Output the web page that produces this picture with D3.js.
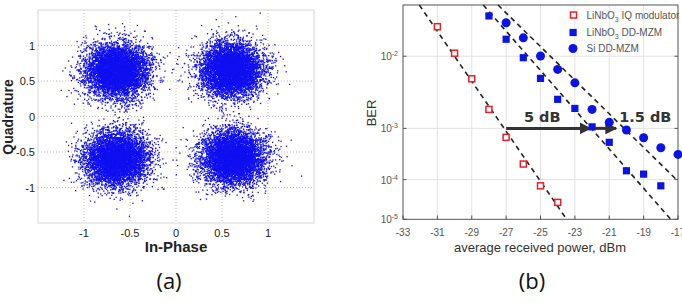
<!DOCTYPE html>
<html>
<head>
<meta charset="utf-8">
<script src="https://cdn.jsdelivr.net/npm/d3@7"></script>
<style>
  body { margin: 0; background: #fff; }
  text { font-family: Arial, "Liberation Sans", sans-serif; }
</style>
</head>
<body>
<svg id="chart" width="682" height="303"></svg>
<script>
//#region DATA
// (a) QPSK constellation: symbol centres and noise spread
const symbolI = [-0.64, 0.60, -0.64, 0.62];
const symbolQ = [0.64, 0.66, -0.60, -0.58];
const noiseI = 0.17;
const noiseQ = 0.19;
const pointsPerSymbol = 6000;
const iqTicks = [-1, -0.5, 0, 0.5, 1];

// (b) BER vs received power
const powerTicks = [-33, -31, -29, -27, -25, -23, -21, -19, -17];
const berTicks = [1e-2, 1e-3, 1e-4, 1e-5];
const berTickExp = ["-2", "-3", "-4", "-5"];

const iqModPower = [-31, -30, -29, -28, -27, -26, -25, -24];
const iqModBer = [0.0202, 0.0108, 0.00537, 0.00201, 0.00070, 0.000216, 7.2e-5, 2.84e-5];

const lnDdPower = [-28, -27, -26, -25, -24, -23, -22, -21, -20, -19, -18];
const lnDdBer = [0.0254, 0.0152, 0.00962, 0.00543, 0.00283, 0.00208, 0.00106, 0.000569, 0.000156, 0.000132, 7.2e-5];

const siDdPower = [-27, -26, -25, -24, -23, -22, -21, -20, -19, -18, -17];
const siDdBer = [0.0220, 0.0157, 0.01005, 0.00702, 0.00476, 0.00201, 0.00126, 0.000937, 0.000689, 0.000452, 0.000337];

// dashed fit lines: [power start, power end], [ber start, ber end]
const fitPower = [[-32.05, -23.48], [-28.33, -17.42], [-27.47, -17]];
const fitBer = [[0.0316, 1e-5], [0.0316, 1e-5], [0.0316, 9.25e-5]];

// power penalty arrows at BER = 1e-3
const arrowFrom = [-27, -22];
const arrowTo = [-22.1, -20.6];
const arrowLabel = ["5 dB", "1.5 dB"];
const arrowLabelPower = [-24.9, -18.9];

const legendLabels = [["LiNbO", "3", " IQ modulator"], ["LiNbO", "3", " DD-MZM"], ["Si DD-MZM", "", ""]];
//#endregion

const svg = d3.select("#chart");
svg.append("rect").attr("width", 682).attr("height", 303).attr("fill", "#fff");

// ---------- PANEL (a) ----------
const xA = d3.scaleLinear().domain([-1.5, 1.5]).range([38, 314]);
const yA = d3.scaleLinear().domain([-1.5, 1.5]).range([223, 10]);
const gA = svg.append("g");

// frame
gA.append("rect")
  .attr("x", 38).attr("y", 10).attr("width", 276).attr("height", 213)
  .attr("fill", "none").attr("stroke", "#d8d8d8").attr("stroke-width", 1);

// dotted grid
gA.selectAll(".vgrid").data(iqTicks).enter().append("line")
  .attr("x1", d => xA(d)).attr("x2", d => xA(d))
  .attr("y1", 10).attr("y2", 223)
  .attr("stroke", "#bdbdbd").attr("stroke-dasharray", "1,2");
gA.selectAll(".hgrid").data(iqTicks).enter().append("line")
  .attr("y1", d => yA(d)).attr("y2", d => yA(d))
  .attr("x1", 38).attr("x2", 314)
  .attr("stroke", "#bdbdbd").attr("stroke-dasharray", "1,2");

// noise clouds (seeded so the picture is repeatable)
const lcg = d3.randomLcg(0.4217);
const cloud = [];
symbolI.forEach((ci, k) => {
  const ri = d3.randomNormal.source(lcg)(ci, noiseI);
  const rq = d3.randomNormal.source(lcg)(symbolQ[k], noiseQ);
  for (let n = 0; n < pointsPerSymbol; n++) cloud.push([ri(), rq()]);
});
gA.append("g").selectAll("rect").data(cloud).enter().append("rect")
  .attr("x", d => xA(d[0]) - 0.65)
  .attr("y", d => yA(d[1]) - 0.65)
  .attr("width", 1.3).attr("height", 1.3)
  .attr("fill", "#1010f0");

// tick labels
gA.selectAll(".xt").data(iqTicks).enter().append("text")
  .attr("x", d => xA(d)).attr("y", 237)
  .attr("text-anchor", "middle").attr("font-size", 11).attr("fill", "#222")
  .text(d => d);
gA.selectAll(".yt").data(iqTicks).enter().append("text")
  .attr("x", 35).attr("y", d => yA(d) + 4)
  .attr("text-anchor", "end").attr("font-size", 11).attr("fill", "#222")
  .text(d => d);

gA.append("text")
  .attr("x", 176).attr("y", 252)
  .attr("text-anchor", "middle").attr("font-size", 15).attr("font-weight", "bold").attr("fill", "#222")
  .text("In-Phase");
gA.append("text")
  .attr("transform", "translate(13,117)rotate(-90)")
  .attr("text-anchor", "middle").attr("font-size", 14).attr("font-weight", "bold").attr("fill", "#222")
  .text("Quadrature");

svg.append("text")
  .attr("x", 169).attr("y", 289)
  .attr("text-anchor", "middle").attr("font-size", 22)
  .style("font-family", "'Open Sans', sans-serif").attr("fill", "#111")
  .text("(a)");

// ---------- PANEL (b) ----------
// BER axis drawn on the log(-log(BER)) scale
const berT = b => Math.log10(-Math.log10(b));
const xB = d3.scaleLinear().domain([-33, -17]).range([403, 678]);
const yB = d3.scaleLinear().domain([berT(Math.pow(10, -1.5)), berT(1e-5)]).range([5, 219.3]);
const gB = svg.append("g");

// grid
gB.selectAll(".vgrid").data(powerTicks.slice(1, -1)).enter().append("line")
  .attr("x1", d => xB(d)).attr("x2", d => xB(d))
  .attr("y1", 5).attr("y2", 219.3)
  .attr("stroke", "#e3e3e3");
gB.selectAll(".hgrid").data(berTicks.slice(0, 3)).enter().append("line")
  .attr("y1", d => yB(berT(d))).attr("y2", d => yB(berT(d)))
  .attr("x1", 403).attr("x2", 678)
  .attr("stroke", "#e3e3e3");

// tick marks
gB.selectAll(".xtick").data(powerTicks).enter().append("line")
  .attr("x1", d => xB(d)).attr("x2", d => xB(d))
  .attr("y1", 219.3).attr("y2", 215.5)
  .attr("stroke", "#555");
gB.selectAll(".ytick").data(berTicks).enter().append("line")
  .attr("y1", d => yB(berT(d))).attr("y2", d => yB(berT(d)))
  .attr("x1", 403).attr("x2", 406.5)
  .attr("stroke", "#555");
gB.selectAll(".ytickr").data(berTicks).enter().append("line")
  .attr("y1", d => yB(berT(d))).attr("y2", d => yB(berT(d)))
  .attr("x1", 678).attr("x2", 674.5)
  .attr("stroke", "#555");

// frame
gB.append("rect")
  .attr("x", 403).attr("y", 5).attr("width", 275).attr("height", 214.3)
  .attr("fill", "none").attr("stroke", "#555").attr("stroke-width", 1);

// tick labels
gB.selectAll(".xt").data(powerTicks).enter().append("text")
  .attr("x", d => xB(d)).attr("y", 235.5)
  .attr("text-anchor", "middle").attr("font-size", 10).attr("fill", "#555")
  .text(d => d);
const yt = gB.selectAll(".yt").data(berTicks).enter().append("text")
  .attr("x", 398).attr("y", d => yB(berT(d)) + 4)
  .attr("text-anchor", "end").attr("font-size", 10).attr("fill", "#555");
yt.append("tspan").text("10");
yt.append("tspan").attr("dy", -4).attr("font-size", 7).text((d, i) => berTickExp[i]);

gB.append("text")
  .attr("x", 540).attr("y", 252)
  .attr("text-anchor", "middle").attr("font-size", 13).attr("fill", "#333")
  .text("average received power, dBm");
gB.append("text")
  .attr("transform", "translate(376,113)rotate(-90)")
  .attr("text-anchor", "middle").attr("font-size", 13).attr("fill", "#333")
  .text("BER");

// dashed fit lines
const fitLine = d3.line().x(d => xB(d[0])).y(d => yB(berT(d[1])));
fitPower.forEach((p, i) => {
  gB.append("path")
    .attr("d", fitLine([[p[0], fitBer[i][0]], [p[1], fitBer[i][1]]]))
    .attr("fill", "none").attr("stroke", "#222").attr("stroke-width", 1.6)
    .attr("stroke-dasharray", "5,4");
});

// arrows
const defs = svg.append("defs");
defs.append("marker")
  .attr("id", "head").attr("viewBox", "0 0 10 10")
  .attr("refX", 9).attr("refY", 5)
  .attr("markerWidth", 4).attr("markerHeight", 4)
  .attr("markerUnits", "strokeWidth").attr("orient", "auto")
  .append("path").attr("d", "M0,0L10,5L0,10z").attr("fill", "#333");

arrowFrom.forEach((f, i) => {
  gB.append("line")
    .attr("x1", xB(f)).attr("x2", xB(arrowTo[i]))
    .attr("y1", yB(berT(1e-3))).attr("y2", yB(berT(1e-3)))
    .attr("stroke", "#333").attr("stroke-width", 3)
    .attr("marker-end", "url(#head)");
  gB.append("text")
    .attr("x", xB(arrowLabelPower[i])).attr("y", 122)
    .attr("text-anchor", "middle").attr("font-size", 14.5).attr("font-weight", "bold")
    .style("font-family", "'DejaVu Sans', sans-serif").attr("fill", "#333")
    .text(arrowLabel[i]);
});

// markers
const lnData = lnDdPower.map((p, i) => [p, lnDdBer[i]]);
const siData = siDdPower.map((p, i) => [p, siDdBer[i]]);
const iqData = iqModPower.map((p, i) => [p, iqModBer[i]]);

gB.selectAll(".si").data(siData).enter().append("circle")
  .attr("cx", d => xB(d[0])).attr("cy", d => yB(berT(d[1])))
  .attr("r", 4.5).attr("fill", "#0a14e6");
gB.selectAll(".ln").data(lnData).enter().append("rect")
  .attr("x", d => xB(d[0]) - 3.6).attr("y", d => yB(berT(d[1])) - 3.6)
  .attr("width", 7.2).attr("height", 7.2).attr("fill", "#0a14e6");
gB.selectAll(".iq").data(iqData).enter().append("rect")
  .attr("x", d => xB(d[0]) - 3).attr("y", d => yB(berT(d[1])) - 3)
  .attr("width", 6).attr("height", 6)
  .attr("fill", "#fff").attr("stroke", "#e8202a").attr("stroke-width", 1.5);

// legend
const legendY = [15, 32.5, 48.5];
const lg = gB.append("g");
lg.append("rect").attr("x", 570.5).attr("y", legendY[0] - 3).attr("width", 6).attr("height", 6)
  .attr("fill", "#fff").attr("stroke", "#e8202a").attr("stroke-width", 1.5);
lg.append("rect").attr("x", 569.5).attr("y", legendY[1] - 3.6).attr("width", 7.2).attr("height", 7.2)
  .attr("fill", "#0a14e6");
lg.append("circle").attr("cx", 573).attr("cy", legendY[2]).attr("r", 4.5).attr("fill", "#0a14e6");
legendLabels.forEach((l, i) => {
  const t = lg.append("text")
    .attr("x", 586.5).attr("y", legendY[i] + 3.5)
    .attr("font-size", 10).attr("fill", "#555");
  t.append("tspan").text(l[0]);
  if (l[1]) {
    t.append("tspan").attr("dy", 3).attr("font-size", 7).text(l[1]);
    t.append("tspan").attr("dy", -3).text(l[2]);
  }
});

svg.append("text")
  .attr("x", 532).attr("y", 289)
  .attr("text-anchor", "middle").attr("font-size", 22)
  .style("font-family", "'Open Sans', sans-serif").attr("fill", "#111")
  .text("(b)");
</script>
</body>
</html>
